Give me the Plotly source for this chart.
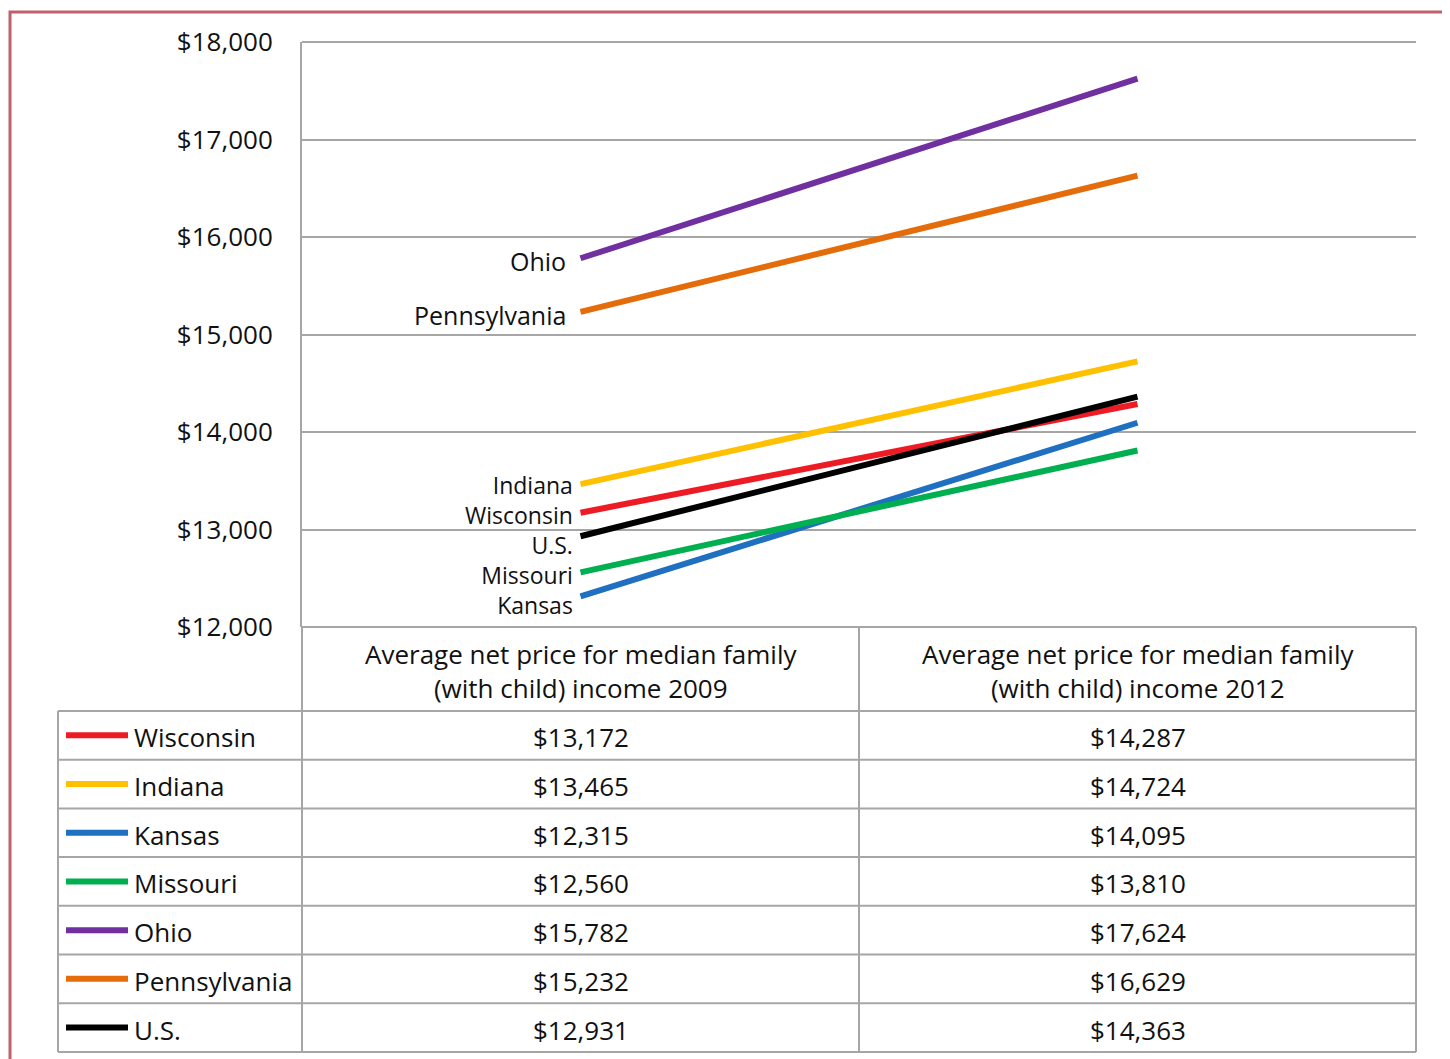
import plotly.graph_objects as go

# data
years = ["2009", "2012"]
col_headers = ["Average net price for median family<br>(with child) income 2009",
               "Average net price for median family<br>(with child) income 2012"]
states = ["Wisconsin", "Indiana", "Kansas", "Missouri", "Ohio", "Pennsylvania", "U.S."]
price_2009 = [13172, 13465, 12315, 12560, 15782, 15232, 12931]
price_2012 = [14287, 14724, 14095, 13810, 17624, 16629, 14363]
colors = ["#ED1C24", "#FFC000", "#1F70C1", "#00B050", "#7030A0", "#E46C0A", "#000000"]
# the low group of lines is labelled as one stacked block
crowded = ["Indiana", "Wisconsin", "U.S.", "Missouri", "Kansas"]

# page body has an 8px margin, so everything is laid out 8px up/left
OFF = 8
W, H = 1450 - OFF, 1059 - OFF
L, R, T, B = 302 - OFF, 1416 - OFF, 42 - OFF, 627 - OFF
FONT = "Open Sans"
FS = 26
GRID = "#A6A6A6"
TXT = "#111111"


def px(x):
    return (x - OFF - L) / (R - L)


def py(y):
    return (B - (y - OFF)) / (B - T)


fig = go.Figure()
for name, a, b, c in zip(states, price_2009, price_2012, colors):
    fig.add_trace(go.Scatter(x=[0, 1], y=[a, b], mode="lines", name=name,
                             line=dict(color=c, width=6), showlegend=False,
                             hoverinfo="skip"))
    if name not in crowded:
        fig.add_annotation(x=0, y=a, xref="x", yref="y", text=name, showarrow=False,
                           xanchor="right", yanchor="middle", xshift=-13, yshift=-3,
                           font=dict(size=25, color=TXT))

low = sorted([(v, s) for s, v in zip(states, price_2009) if s in crowded], reverse=True)
mid_val = low[len(low) // 2][0]
fig.add_annotation(x=0, y=mid_val, xref="x", yref="y",
                   text="<br>".join(s for _, s in low), showarrow=False,
                   xanchor="right", yanchor="middle", align="right",
                   xshift=-6, yshift=-9, font=dict(size=23, color=TXT))

shapes = []
annotations = []
# outer frame
shapes.append(dict(type="rect", xref="paper", yref="paper", x0=px(10), x1=px(1447),
                   y0=py(12), y1=py(1075), line=dict(color="#C0606A", width=3)))

line = dict(color=GRID, width=2)
# top gridline and axis baseline
for yv in [42, 627]:
    shapes.append(dict(type="line", xref="paper", yref="paper", x0=px(302), x1=px(1416),
                       y0=py(yv), y1=py(yv), line=line))

# table grid
row_top = 711
row_h = 48.7
n = len(states)
bottom = row_top + row_h * n
mid = (302 + 1416) / 2
for xv in [302, mid, 1416]:
    shapes.append(dict(type="line", xref="paper", yref="paper", x0=px(xv), x1=px(xv),
                       y0=py(627), y1=py(bottom), line=line))
shapes.append(dict(type="line", xref="paper", yref="paper", x0=px(58), x1=px(58),
                   y0=py(row_top), y1=py(bottom), line=line))
for i in range(n + 1):
    yv = row_top + row_h * i
    shapes.append(dict(type="line", xref="paper", yref="paper", x0=px(58), x1=px(1416),
                       y0=py(yv), y1=py(yv), line=line))

cx = [(302 + mid) / 2, (mid + 1416) / 2]
for j, h in enumerate(col_headers):
    annotations.append(dict(xref="paper", yref="paper", x=px(cx[j]), y=py(671),
                            text=h, showarrow=False, xanchor="center", yanchor="middle",
                            font=dict(size=FS, color=TXT), align="center"))

for i, (name, a, b, c) in enumerate(zip(states, price_2009, price_2012, colors)):
    yc = row_top + row_h * (i + 0.5)
    shapes.append(dict(type="line", xref="paper", yref="paper", x0=px(66), x1=px(128),
                       y0=py(yc), y1=py(yc), line=dict(color=c, width=6)))
    annotations.append(dict(xref="paper", yref="paper", x=px(132), y=py(yc + 2), text=name,
                            showarrow=False, xanchor="left", yanchor="middle",
                            font=dict(size=FS, color=TXT)))
    for j, v in enumerate([a, b]):
        annotations.append(dict(xref="paper", yref="paper", x=px(cx[j]), y=py(yc + 2),
                                text="${:,}".format(v), showarrow=False,
                                xanchor="center", yanchor="middle",
                                font=dict(size=FS, color=TXT)))

fig.update_layout(
    width=W, height=H,
    margin=dict(l=L, r=W - R, t=T, b=H - B),
    paper_bgcolor="white", plot_bgcolor="white",
    font=dict(family=FONT, size=FS, color=TXT),
    shapes=shapes,
    annotations=list(fig.layout.annotations) + annotations,
)
fig.update_xaxes(range=[-0.5, 1.5], showticklabels=False, showgrid=False,
                 zeroline=False, tickvals=[0, 1], ticktext=years,
                 showline=False)
fig.update_yaxes(range=[12000, 18000], dtick=1000, tickprefix="$", tickformat=",d",
                 showgrid=True, gridcolor=GRID, gridwidth=2, zeroline=False,
                 showline=True, linecolor=GRID, linewidth=2,
                 ticklabelstandoff=22, tickfont=dict(size=FS, color=TXT))

fig.write_html("out.html")
